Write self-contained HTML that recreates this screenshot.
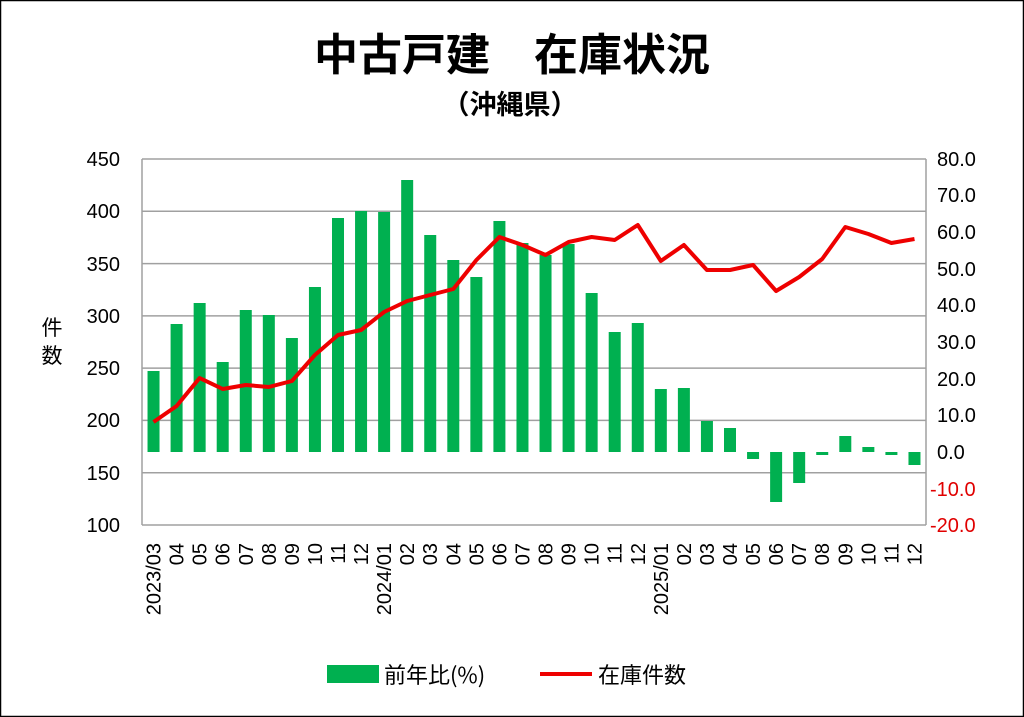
<!DOCTYPE html>
<html><head><meta charset="utf-8"><style>
body{margin:0;background:#fff}
svg{display:block;font-family:"Liberation Sans","Noto Sans CJK JP",sans-serif}
</style></head><body>
<svg width="1024" height="717" viewBox="0 0 1024 717">
<rect x="0.5" y="0.5" width="1023" height="716" fill="#fff" stroke="#000" stroke-width="1.5"/>
<text x="512" y="70" text-anchor="middle" font-size="44" font-weight="bold" font-family="'Noto Sans CJK JP',sans-serif">中古戸建　在庫状況</text>
<text x="510" y="114" text-anchor="middle" font-size="27" font-weight="bold" font-family="'Noto Sans CJK JP',sans-serif">（沖縄県）</text>
<g stroke="#a0a0a0" stroke-width="1.5">
<line x1="142" y1="159" x2="926" y2="159"/><line x1="142" y1="211.3" x2="926" y2="211.3"/>
<line x1="142" y1="263.6" x2="926" y2="263.6"/><line x1="142" y1="315.9" x2="926" y2="315.9"/>
<line x1="142" y1="368.1" x2="926" y2="368.1"/><line x1="142" y1="420.4" x2="926" y2="420.4"/>
<line x1="142" y1="472.7" x2="926" y2="472.7"/><line x1="142" y1="525" x2="926" y2="525"/>
<line x1="142" y1="159" x2="142" y2="525"/><line x1="926" y1="159" x2="926" y2="525"/>
</g>
<g font-size="20" text-anchor="end">
<text x="120" y="166">450</text><text x="120" y="218">400</text><text x="120" y="271">350</text><text x="120" y="323">300</text><text x="120" y="375">250</text><text x="120" y="427">200</text><text x="120" y="480">150</text><text x="120" y="532">100</text>
</g>
<g font-size="20" text-anchor="start">
<text x="937" y="166">80.0</text><text x="937" y="202">70.0</text><text x="937" y="239">60.0</text><text x="937" y="276">50.0</text><text x="937" y="312">40.0</text><text x="937" y="349">30.0</text><text x="937" y="386">20.0</text><text x="937" y="422">10.0</text><text x="937" y="459">0.0</text>
<text x="930" y="496" fill="#e00000">-10.0</text><text x="930" y="532" fill="#e00000">-20.0</text>
</g>
<text x="52" y="335" font-size="21" text-anchor="middle" font-family="'Noto Sans CJK JP',sans-serif">件</text>
<text x="52" y="363" font-size="21" text-anchor="middle" font-family="'Noto Sans CJK JP',sans-serif">数</text>
<g id="bars" fill="#00b050"></g>
<polyline id="ln" fill="none" stroke="#ee0000" stroke-width="4" stroke-linejoin="round"/>
<g id="xl" font-size="20"></g>
<rect x="327" y="665" width="52" height="18" fill="#00b050"/>
<text x="384" y="683" font-size="22" font-family="'Noto Sans CJK JP',sans-serif">前年比(%)</text>
<line x1="540" y1="674" x2="592" y2="674" stroke="#ee0000" stroke-width="4"/>
<text x="598" y="683" font-size="22" font-family="'Noto Sans CJK JP',sans-serif">在庫件数</text>
<script>
var tops=[371,324,303,362,310,315,338,287,218,211,212,180,235,260,277,221,243,255,244,293,332,323,389,388,421,428,459,502,483,455,436,447,455,465];
var ly=[422,406,378,389,385,387,381,355,335,330,312,301,295,289,260,237,245,255,242,237,240,225,261,245,270,270,265,291,277,259,227,234,243,239];
var lab=["2023/03","04","05","06","07","08","09","10","11","12","2024/01","02","03","04","05","06","07","08","09","10","11","12","2025/01","02","03","04","05","06","07","08","09","10","11","12"];
var ns="http://www.w3.org/2000/svg",b=document.getElementById("bars"),xl=document.getElementById("xl"),pts=[];
var w=784/34;
for(var i=0;i<34;i++){var cx=142+w*(i+0.5);var t=tops[i],y0=452;
var r=document.createElementNS(ns,"rect");r.setAttribute("x",cx-6);r.setAttribute("width",12);
r.setAttribute("y",Math.min(t,y0));r.setAttribute("height",Math.abs(t-y0));b.appendChild(r);
pts.push(cx.toFixed(1)+","+ly[i]);
var tx=document.createElementNS(ns,"text");tx.setAttribute("text-anchor","end");
tx.setAttribute("transform","translate("+(cx+7)+",543) rotate(-90)");tx.textContent=lab[i];xl.appendChild(tx);}
document.getElementById("ln").setAttribute("points",pts.join(" "));
</script>
</svg>
</body></html>
